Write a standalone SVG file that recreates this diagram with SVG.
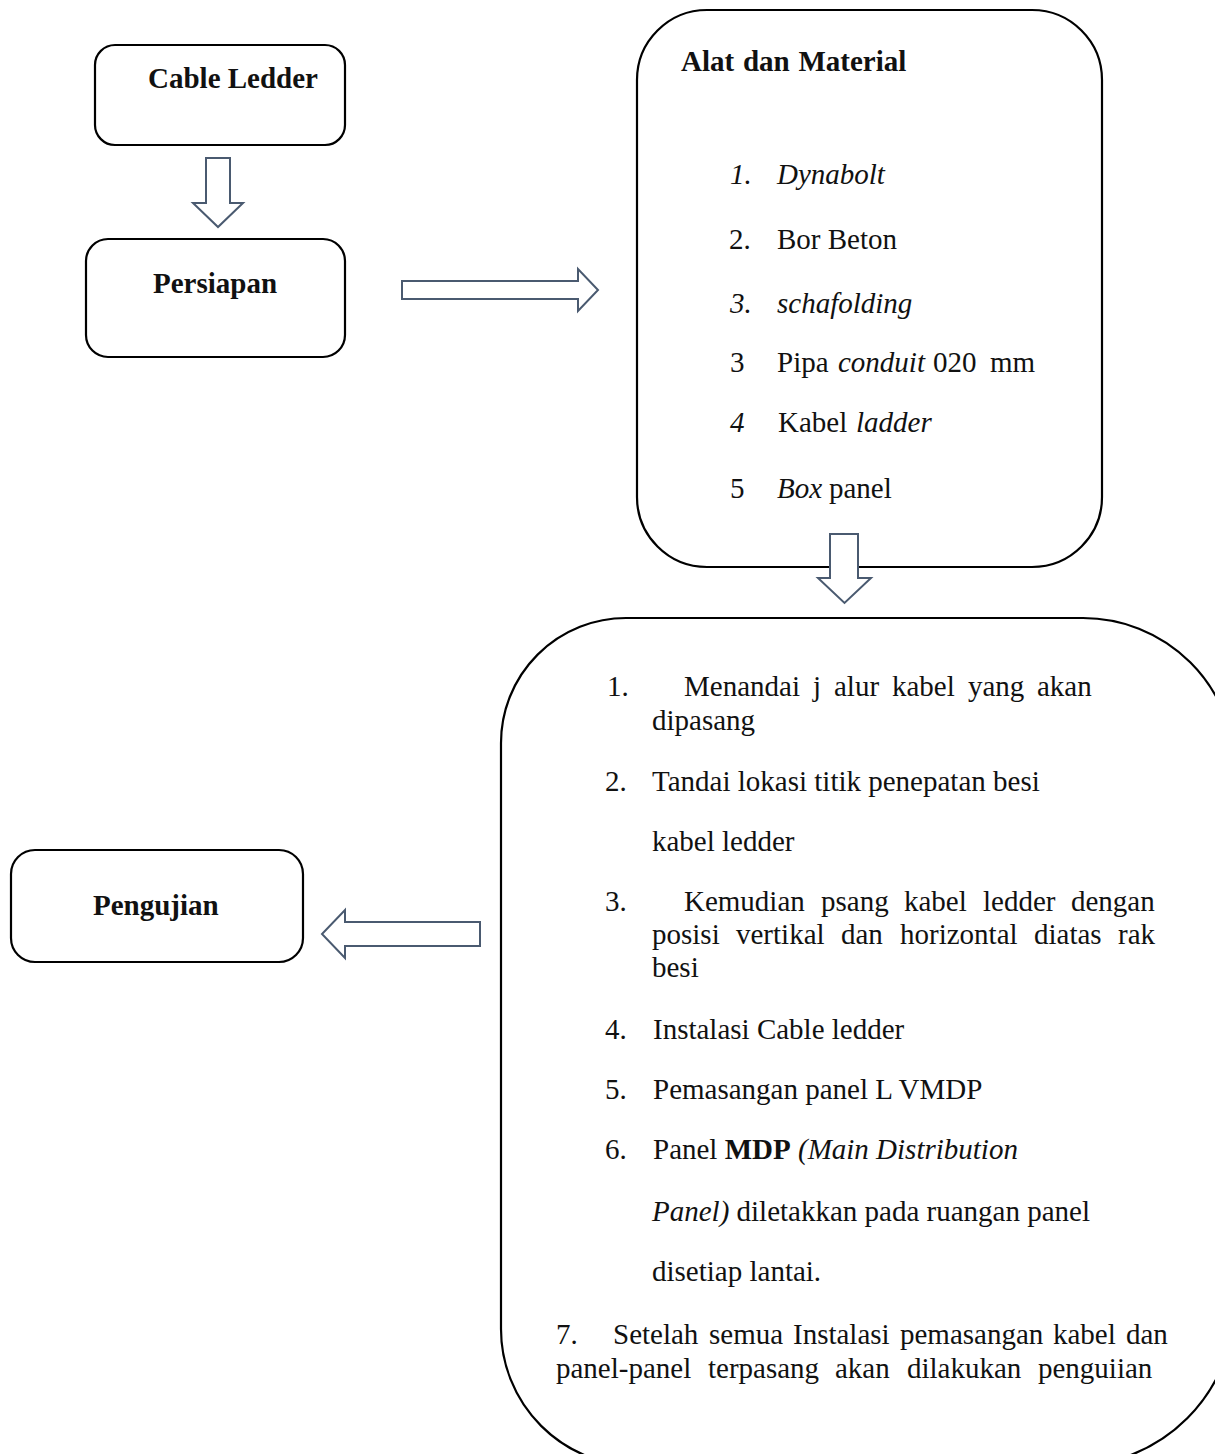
<svg xmlns="http://www.w3.org/2000/svg" width="1215" height="1454" viewBox="0 0 1215 1454">
<style>
  .box { fill: #ffffff; stroke: #000000; stroke-width: 2.2; }
  .arrow { fill: #ffffff; stroke: #4a5a70; stroke-width: 2; stroke-linejoin: miter; }
  text { font-family: "Liberation Serif", "Times New Roman", serif; fill: #111111; font-size: 29px; }
  .b { font-weight: bold; }
  .i { font-style: italic; }
</style>
<rect width="1215" height="1454" fill="#ffffff"/>

<g id="node-cable-ledder">
  <rect class="box" x="95" y="45" width="250" height="100" rx="20" ry="20"/>
  <text class="b" x="148" y="88">Cable Ledder</text>
</g>

<g id="node-persiapan">
  <rect class="box" x="86" y="239" width="259" height="118" rx="22" ry="22"/>
  <text class="b" x="153" y="293">Persiapan</text>
</g>

<g id="node-pengujian">
  <rect class="box" x="11" y="850" width="292" height="112" rx="24" ry="24"/>
  <text class="b" x="93" y="915">Pengujian</text>
</g>

<g id="node-alat-material">
  <rect class="box" x="637" y="10" width="465" height="557" rx="70" ry="70"/>
  <text class="b" x="681" y="71" word-spacing="1.5">Alat dan Material</text>
  <text class="i" x="730" y="184">1.</text>
  <text class="i" x="777" y="184">Dynabolt</text>
  <text x="729" y="249">2.</text>
  <text x="777" y="249">Bor Beton</text>
  <text class="i" x="730" y="313">3.</text>
  <text class="i" x="777" y="313">schafolding</text>
  <text x="730" y="372">3</text>
  <text y="372"><tspan x="777">Pipa</tspan><tspan x="838" class="i">conduit</tspan><tspan x="933">020</tspan><tspan x="990">mm</tspan></text>
  <text class="i" x="730" y="432">4</text>
  <text y="432"><tspan x="778">Kabel</tspan><tspan x="856" class="i">ladder</tspan></text>
  <text x="730" y="498">5</text>
  <text y="498"><tspan x="777" class="i">Box</tspan><tspan x="829">panel</tspan></text>
</g>

<g id="node-langkah">
  <path class="box" d="M626,618 H1083 A152,152 0 0 1 1235,770 V1303 A163,163 0 0 1 1072,1466 H638 A137,137 0 0 1 501,1329 V743 A125,125 0 0 1 626,618 Z"/>
  <text x="607" y="696">1.</text>
  <text y="696"><tspan x="684">Menandai</tspan><tspan x="813">j</tspan><tspan x="834">alur</tspan><tspan x="892">kabel</tspan><tspan x="968">yang</tspan><tspan x="1037">akan</tspan></text>
  <text x="652" y="730">dipasang</text>
  <text x="605" y="791">2.</text>
  <text x="652" y="791">Tandai lokasi titik penepatan besi</text>
  <text x="652" y="851">kabel ledder</text>
  <text x="605" y="911">3.</text>
  <text y="911"><tspan x="684">Kemudian</tspan><tspan x="821">psang</tspan><tspan x="904">kabel</tspan><tspan x="983">ledder</tspan><tspan x="1071">dengan</tspan></text>
  <text y="944"><tspan x="652">posisi</tspan><tspan x="736">vertikal</tspan><tspan x="841">dan</tspan><tspan x="900">horizontal</tspan><tspan x="1034">diatas</tspan><tspan x="1118">rak</tspan></text>
  <text x="652" y="977">besi</text>
  <text x="605" y="1039">4.</text>
  <text x="653" y="1039">Instalasi Cable ledder</text>
  <text x="605" y="1099">5.</text>
  <text x="653" y="1099">Pemasangan panel L VMDP</text>
  <text x="605" y="1159">6.</text>
  <text x="653" y="1159">Panel <tspan class="b">MDP</tspan> <tspan class="i">(Main Distribution</tspan></text>
  <text x="652" y="1221"><tspan class="i">Panel)</tspan> diletakkan pada ruangan panel</text>
  <text x="652" y="1281">disetiap lantai.</text>
  <text x="556" y="1344">7.</text>
  <text y="1344"><tspan x="613">Setelah</tspan><tspan x="709">semua</tspan><tspan x="793">Instalasi</tspan><tspan x="900">pemasangan</tspan><tspan x="1053">kabel</tspan><tspan x="1126">dan</tspan></text>
  <text y="1378"><tspan x="556">panel-panel</tspan><tspan x="708">terpasang</tspan><tspan x="835">akan</tspan><tspan x="907">dilakukan</tspan><tspan x="1038">penguiian</tspan></text>
</g>

<g id="connectors">
  <path class="arrow" d="M206,158 H230 V203 H243 L218,227 L193,203 H206 Z"/>
  <path class="arrow" d="M402,281 H578 V269 L598,290 L578,311 V299 H402 Z"/>
  <path class="arrow" d="M830,534 H858 V578 H871 L844.5,603 L818,578 H830 Z"/>
  <path class="arrow" d="M480,922 H345 V910 L322,934 L345,958 V946 H480 Z"/>
</g>
</svg>
